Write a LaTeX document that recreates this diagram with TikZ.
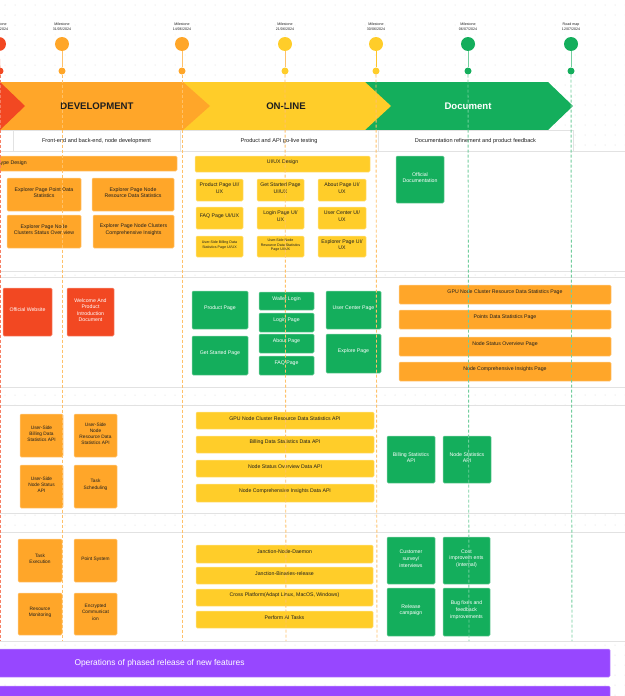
\documentclass[tikz,border=0pt]{standalone}
\usepackage{fontspec}
\setmainfont{Liberation Sans}
\usetikzlibrary{fit}
\definecolor{jred}{HTML}{F24822}
\definecolor{jorange}{HTML}{FFA629}
\definecolor{jyellow}{HTML}{FFCD29}
\definecolor{jgreen}{HTML}{14AE5C}
\definecolor{jpurple}{HTML}{9747FF}
\definecolor{jink}{HTML}{1E1E1E}
\definecolor{jdot}{HTML}{D4D4D4}
\definecolor{jrule}{HTML}{E2E2E2}
\tikzset{
  box/.style={rounded corners=1.2pt, inner sep=0pt, line width=0.5pt, align=center,
    font=\fontsize{5.2}{6.6}\selectfont},
  obox/.style={box, fill=jorange, draw=jorange!55!white, text=jink},
  ybox/.style={box, fill=jyellow, draw=jyellow!55!white, text=jink},
  gbox/.style={box, fill=jgreen, draw=jgreen!55!white, text=white},
  rbox/.style={box, fill=jred, draw=jred!55!white, text=white},
  tiny/.style={font=\fontsize{3.6}{4.6}\selectfont},
  small/.style={font=\fontsize{4.8}{6.2}\selectfont},
  lane/.style={fill=white, draw=jrule, line width=0.8pt},
  cell/.style={fill=white, draw=jrule, line width=1pt},
  celltext/.style={font=\fontsize{5.6}{6.6}\selectfont, text=jink},
  banner/.style={font=\fontsize{9.6}{11}\selectfont\bfseries},
  mstone/.style={circle, minimum size=14pt, inner sep=0pt},
  mdot/.style={circle, minimum size=7pt, inner sep=0pt},
  mlabel/.style={font=\fontsize{3.6}{4.6}\selectfont, align=center, text=jink},
  stem/.style={line width=0.9pt},
  guide/.style={line width=0.9pt, dash pattern=on 3pt off 2pt},
}
\begin{document}
\begin{tikzpicture}[x=1pt, y=-1pt]
  \useasboundingbox (0,0) rectangle (624,696);
  % dotted canvas
  \foreach \gx in {5,15,...,625}
    \foreach \gy in {5,15,...,695}
      \fill[jdot] (\gx,\gy) circle (0.5);
  % swim lanes
  \draw[lane] (-2,151) rectangle (626,271);
  \draw[lane] (-2,277) rectangle (626,387);
  \draw[lane] (-2,405) rectangle (626,513);
  \draw[lane] (-2,532) rectangle (626,641);
  % --- phase banner ---
  \fill[jgreen] (365,82) -- (548,82) -- (573,106) -- (548,130) -- (365,130) -- cycle;
  \fill[jyellow] (183,82) -- (365,82) -- (391,106) -- (365,130) -- (183,130) -- cycle;
  \fill[jorange] (-5,82) -- (183,82) -- (210,106) -- (183,130) -- (-5,130) -- cycle;
  \fill[jred] (-5,82) -- (0,82) -- (25,106) -- (0,130) -- (-5,130) -- cycle;
  \node[banner, text=jink] (dev) at (97,106) {DEVELOPMENT};
  \node[banner, text=jink] (online) at (286,106) {ON-LINE};
  \node[banner, text=white] (docu) at (468,106) {Document};
  % phase goals
  \draw[cell] (-5,130) rectangle (13,151);
  \draw[cell] (13,130) rectangle (180,151);
  \draw[cell] (180,130) rectangle (378,151);
  \draw[cell] (378,130) rectangle (573,151);
  \node[celltext] (goal1) at (96.5,141) {Front-end and back-end, node development};
  \node[celltext] (goal2) at (279,141) {Product and API go-live testing};
  \node[celltext] (goal3) at (475.5,141) {Documentation refinement and product feedback};
  % --- lane 1: design ---
  \node[obox, fit={(-20,156) (177,171)}] (proto) {};
  \node[box, text=jink, anchor=east] (protot) at (27,163.5) {Prototype Design};
  \node[obox, fit={(7,178) (81,211)}] (exppoint) {Explorer Page Point Data\\Statistics};
  \node[obox, fit={(92,178) (174,211)}] (expres) {Explorer Page Node\\Resource Data Statistics};
  \node[obox, fit={(7,215) (81,248)}] (expstat) {Explorer Page Node\\Clusters Status Over-view};
  \node[obox, fit={(93,215) (174,248)}] (expins) {Explorer Page Node Clusters\\Comprehensive Insights};
  \node[ybox, fit={(195,156) (370,172)}] (uiux) {UI/UX Design};
  \node[ybox, fit={(196,179) (243,201)}] (uiproduct) {Product Page UI/\\UX};
  \node[ybox, fit={(257,179) (304,201)}] (uistarted) {Get Started Page\\UI/UX};
  \node[ybox, fit={(318,179) (366,201)}] (uiabout) {About Page UI/\\UX};
  \node[ybox, fit={(196,207) (243,229)}] (uifaq) {FAQ Page UI/UX};
  \node[ybox, fit={(257,207) (304,229)}] (uilogin) {Login Page UI/\\UX};
  \node[ybox, fit={(318,207) (366,229)}] (uicenter) {User Center UI/\\UX};
  \node[ybox, tiny, fit={(196,236) (243,257)}] (uibill) {User-Side Billing Data\\Statistics Page UI/UX};
  \node[ybox, tiny, fit={(257,236) (304,257)}] (uinode) {User-Side Node\\Resource Data Statistics\\Page UI/UX};
  \node[ybox, fit={(318,236) (366,257)}] (uiexplorer) {Explorer Page UI/\\UX};
  \node[gbox, fit={(396,156) (444,203)}] (offdoc) {Official\\Documentation};
  % --- lane 2: pages ---
  \node[rbox, fit={(3,288) (52,336)}] (offweb) {Official Website};
  \node[rbox, fit={(67,288) (114,336)}] (welcome) {Welcome And\\Product\\Introduction\\Document};
  \node[gbox, fit={(192,291) (248,329)}] (product) {Product Page};
  \node[gbox, fit={(192,336) (248,375)}] (started) {Get Started Page};
  \node[gbox, fit={(259,292) (314,310)}] (wallet) {Wallet Login};
  \node[gbox, fit={(259,313) (314,332)}] (login) {Login Page};
  \node[gbox, fit={(259,334) (314,353)}] (about) {About Page};
  \node[gbox, fit={(259,356) (314,375)}] (faq) {FAQ Page};
  \node[gbox, fit={(326,291) (381,329)}] (ucenter) {User Center Page};
  \node[gbox, fit={(326,334) (381,373)}] (explore) {Explore Page};
  \node[obox, fit={(399,285) (611,304)}] (gpupage) {GPU Node Cluster Resource Data Statistics Page};
  \node[obox, fit={(399,310) (611,329)}] (pointspage) {Points Data Statistics Page};
  \node[obox, fit={(399,337) (611,356)}] (statuspage) {Node Status Overview Page};
  \node[obox, fit={(399,362) (611,381)}] (insightpage) {Node Comprehensive Insights Page};
  % --- lane 3: APIs ---
  \node[obox, small, fit={(20,414) (63,457)}] (billapi) {User-Side\\Billing Data\\Statistics API};
  \node[obox, small, fit={(74,414) (117,457)}] (resapi) {User-Side\\Node\\Resource Data\\Statistics API};
  \node[obox, small, fit={(20,465) (63,508)}] (statapi) {User-Side\\Node Status\\API};
  \node[obox, small, fit={(74,465) (117,508)}] (tasksched) {Task\\Scheduling};
  \node[ybox, fit={(196,412) (374,429)}] (gpuapi) {GPU Node Cluster Resource Data Statistics API};
  \node[ybox, fit={(196,436) (374,453)}] (billdata) {Billing Data Statistics Data API};
  \node[ybox, fit={(196,460) (374,477)}] (statusapi) {Node Status Overview Data API};
  \node[ybox, fit={(196,484) (374,502)}] (insightapi) {Node Comprehensive Insights Data API};
  \node[gbox, fit={(387,436) (435,483)}] (billstat) {Billing Statistics\\API};
  \node[gbox, fit={(443,436) (491,483)}] (nodestat) {Node Statistics\\API};
  % --- lane 4: node client and feedback ---
  \node[obox, small, fit={(18,539) (62,582)}] (taskexec) {Task\\Execution};
  \node[obox, small, fit={(74,539) (117,582)}] (pointsys) {Point System};
  \node[obox, small, fit={(18,593) (62,635)}] (resmon) {Resource\\Monitoring};
  \node[obox, small, fit={(74,593) (117,635)}] (enccomm) {Encrypted\\Communicat\\ion};
  \node[ybox, fit={(196,545) (373,563)}] (daemon) {Janction-Node-Daemon};
  \node[ybox, fit={(196,567) (373,584)}] (binaries) {Janction-Binaries-release};
  \node[ybox, fit={(196,589) (373,606)}] (cross) {Cross Platform(Adapt Linux, MacOS, Windows)};
  \node[ybox, fit={(196,611) (373,628)}] (perform) {Perform AI Tasks};
  \node[gbox, fit={(387,537) (435,584)}] (survey) {Customer\\survey/\\interviews};
  \node[gbox, fit={(443,537) (490,584)}] (cost) {Cost\\improvem ents\\(internal)};
  \node[gbox, fit={(387,588) (435,636)}] (release) {Release\\campaign};
  \node[gbox, fit={(443,588) (490,636)}] (bugs) {Bug fixes and\\feedback\\improvements};
  % --- operations ---
  \node[box, fill=jpurple, draw=jpurple!60!white, fit={(-5,649) (610,677)}] (ops) {};
  \node[text=white, font=\fontsize{8.4}{10}\selectfont, anchor=west] (opstext) at (71,663)
    {Operations of phased release of new features};
  \node[box, fill=jpurple, draw=jpurple!60!white, fit={(-5,686) (610,702)}] (ops2) {};
  % --- milestones ---
  \node[mlabel] (ml1) at (-1,27) {Milestone\\15/05/2024};
  \node[mlabel] (ml2) at (62,27) {Milestone\\31/05/2024};
  \node[mlabel] (ml3) at (182,27) {Milestone\\14/06/2024};
  \node[mlabel] (ml4) at (285,27) {Milestone\\21/06/2024};
  \node[mlabel] (ml5) at (376,27) {Milestone\\30/06/2024};
  \node[mlabel] (ml6) at (468,27) {Milestone\\06/07/2024};
  \node[mlabel] (ml7) at (571,27) {Road map\\12/07/2024};
  \node[mstone, fill=jred] (ms1) at (-1,44) {};
  \node[mstone, fill=jorange] (ms2) at (62,44) {};
  \node[mstone, fill=jorange] (ms3) at (182,44) {};
  \node[mstone, fill=jyellow] (ms4) at (285,44) {};
  \node[mstone, fill=jyellow] (ms5) at (376,44) {};
  \node[mstone, fill=jgreen] (ms6) at (468,44) {};
  \node[mstone, fill=jgreen] (ms7) at (571,44) {};
  \node[mdot, fill=jred] (md1) at (0,71) {};
  \node[mdot, fill=jorange] (md2) at (62,71) {};
  \node[mdot, fill=jorange] (md3) at (182,71) {};
  \node[mdot, fill=jyellow] (md4) at (285,71) {};
  \node[mdot, fill=jyellow] (md5) at (376,71) {};
  \node[mdot, fill=jgreen] (md6) at (468,71) {};
  \node[mdot, fill=jgreen] (md7) at (571,71) {};
  \coordinate (me1) at (0,641);
  \coordinate (me2) at (62,641);
  \coordinate (me3) at (182,641);
  \coordinate (me4) at (286,641);
  \coordinate (me5) at (377,641);
  \coordinate (me6) at (469,641);
  \coordinate (me7) at (572,641);
  % stems and guide lines
  \draw[stem, jred!70!white] (ms1) -- (md1);
  \draw[stem, jorange!70!white] (ms2) -- (md2);
  \draw[stem, jorange!70!white] (ms3) -- (md3);
  \draw[stem, jorange!70!white] (ms4) -- (md4);
  \draw[stem, jyellow!80!jorange] (ms5) -- (md5);
  \draw[stem, jgreen!60!white] (ms6) -- (md6);
  \draw[stem, jgreen!60!white] (ms7) -- (md7);
  \draw[guide, jred!70!white] (md1) -- (me1);
  \draw[guide, jorange!70!white] (md2) -- (me2);
  \draw[guide, jorange!70!white] (md3) -- (me3);
  \draw[guide, jorange!70!white] (md4) -- (me4);
  \draw[guide, jorange!70!white] (md5) -- (me5);
  \draw[guide, jgreen!60!white] (md6) -- (me6);
  \draw[guide, jgreen!60!white] (md7) -- (me7);
\end{tikzpicture}
\end{document}
